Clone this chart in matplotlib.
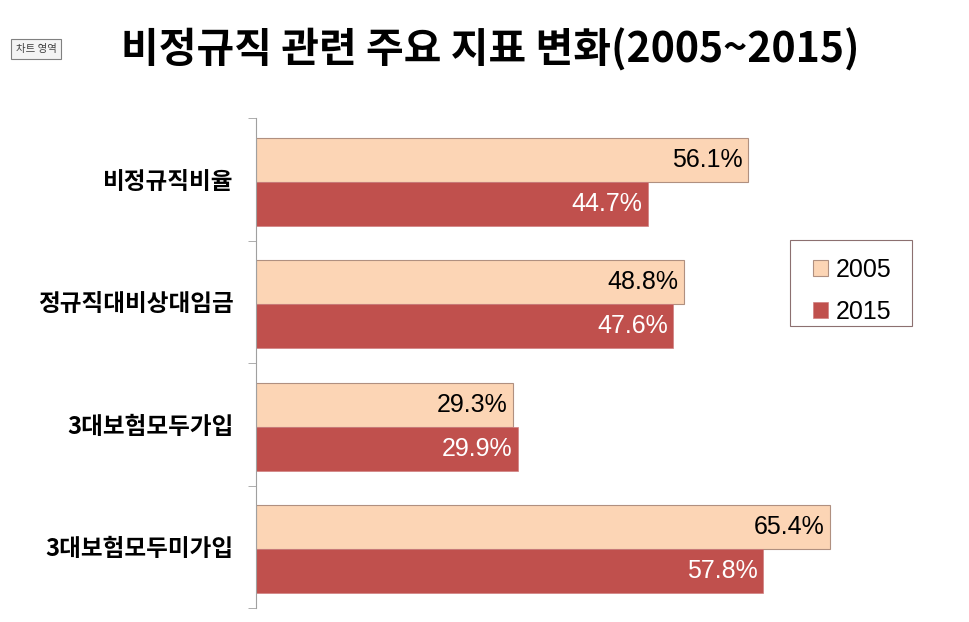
import matplotlib
matplotlib.use("Agg")
import matplotlib.pyplot as plt
from matplotlib.patches import Rectangle
import numpy as np

plt.rcParams['font.family'] = ['Noto Sans CJK KR', 'DejaVu Sans']

categories = ["비정규직비율", "정규직대비상대임금", "3대보험모두가입", "3대보험모두미가입"]
vals_2005 = [56.1, 48.8, 29.3, 65.4]
vals_2015 = [44.7, 47.6, 29.9, 57.8]
series_names = ["2005", "2015"]

c2005 = "#FCD5B5"
c2015 = "#C0504D"

W, H = 970, 622
fig = plt.figure(figsize=(9.7, 6.22), dpi=100)
ax = fig.add_axes([256 / W, 14 / H, 701.6 / W, 490 / H])

y = np.arange(len(categories))
h = 0.36
off = 0.02
b1 = ax.barh(y - h / 2 + off, vals_2005, height=h, color=c2005, edgecolor="#B09080", linewidth=0.8, label=series_names[0])
b2 = ax.barh(y + h / 2 + off, vals_2015, height=h, color=c2015, edgecolor="#D08080", linewidth=0.5, label=series_names[1])

# --- value labels inside bar ends ---
for bars, col in [(b1, "black"), (b2, "white")]:
    for rect in bars:
        v = rect.get_width()
        ax.annotate(f"{v:.1f}%", (v, rect.get_y() + rect.get_height() / 2),
                    xytext=(-4, 0), textcoords="offset points", ha="right", va="center",
                    fontsize=18, color=col, family=["Liberation Sans", "DejaVu Sans"])

ax.set_xlim(0, 80)
ax.set_ylim(len(categories) - 0.5, -0.5)
ax.set_yticks(y)
ax.set_yticklabels(categories, fontsize=17, fontweight="black")
ax.tick_params(axis="y", which="major", length=0, pad=16)
ax.set_yticks(np.arange(-0.5, len(categories)), minor=True)
ax.tick_params(axis="y", which="minor", length=6, color="#A0A0A0")
ax.set_xticks([])
for s in ["top", "right", "bottom"]:
    ax.spines[s].set_visible(False)
ax.spines["left"].set_color("#A0A0A0")

# legend: frameless, box drawn separately
leg = ax.legend(loc="upper left", bbox_to_anchor=(813 / W, 1 - 258 / H), bbox_transform=fig.transFigure,
                handlelength=0.6, handleheight=0.6, handletextpad=0.3,
                labelspacing=0.72, borderpad=0, borderaxespad=0, frameon=False,
                prop={"family": ["Liberation Sans"], "size": 18})
fig.patches.append(Rectangle((790 / W, 1 - 326 / H), 122 / W, 86 / H, transform=fig.transFigure,
                             facecolor="none", edgecolor="#8C7070", linewidth=0.8))

fig.text(490 / W, 1 - 50 / H, "비정규직 관련 주요 지표 변화(2005~2015)",
         ha="center", va="center", fontsize=29.5, fontweight="black")

fig.text(36 / W, 1 - 49 / H, "차트 영역", ha="center", va="center", fontsize=7.5, color="#404040",
         bbox=dict(boxstyle="square,pad=0.45", facecolor="#F4F4F4", edgecolor="#808080", linewidth=0.8))

fig.savefig("out.png", dpi=100)
